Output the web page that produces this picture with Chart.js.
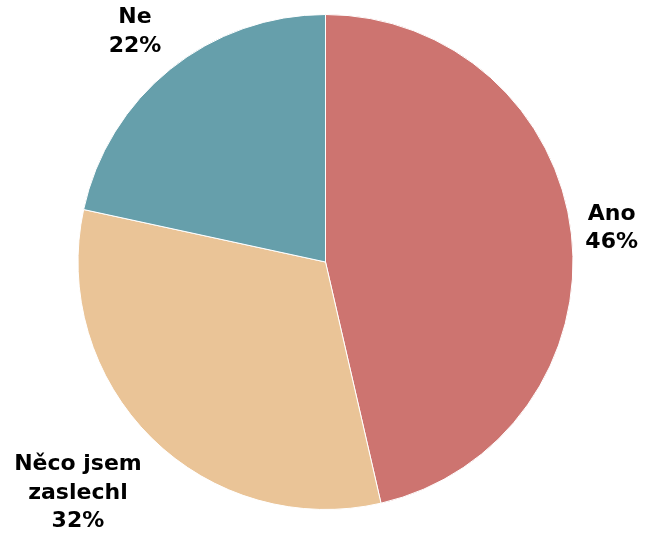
<!DOCTYPE html>
<html>
<head>
<meta charset="utf-8">
<script src="https://cdn.jsdelivr.net/npm/chart.js@4"></script>
<style>
  html, body { margin: 0; padding: 0; background: #ffffff; }
  #wrap { width: 647px; height: 535px; }
</style>
</head>
<body>
<div id="wrap"><canvas id="c" width="647" height="535"></canvas></div>
<script>
const categories = ['Ano', 'Něco jsem zaslechl', 'Ne'];
const labelLines = [['Ano'], ['Něco jsem', 'zaslechl'], ['Ne']];
const shares = [46.4, 32.0, 21.6];
const colors = ['#CD7470', '#EAC497', '#669FAB'];

const FONT = 'bold 22px Verdana, "DejaVu Sans", sans-serif';
const LINE_H = 28.5;
const LABEL_GAP = 14;
const BASELINE_NUDGE = 2;

const clamp = (v, lo, hi) => Math.max(lo, Math.min(hi, v));

// Category name plus rounded percentage, set just outside each slice
const outsideLabels = {
  id: 'outsideLabels',
  afterDatasetsDraw(chart) {
    const ctx = chart.ctx;
    const meta = chart.getDatasetMeta(0);
    const total = shares.reduce((a, b) => a + b, 0);
    ctx.save();
    ctx.font = FONT;
    ctx.fillStyle = '#000000';
    ctx.textAlign = 'center';
    ctx.textBaseline = 'middle';
    meta.data.forEach((arc, i) => {
      const pct = Math.round(shares[i] / total * 100);
      const lines = labelLines[i].concat([pct + '%']);
      const mid = (arc.startAngle + arc.endAngle) / 2;
      const dx = Math.cos(mid), dy = Math.sin(mid);
      const r = arc.outerRadius + LABEL_GAP;
      const ax = arc.x + dx * r;
      const ay = arc.y + dy * r;
      const w = Math.max(...lines.map(l => ctx.measureText(l).width));
      const h = lines.length * LINE_H;
      const cx = ax + (w / 2) * clamp(dx / 0.5, -1, 1);
      const cy = ay + (h / 2) * clamp(dy / 0.5, -1, 1) + BASELINE_NUDGE;
      lines.forEach((l, k) => {
        ctx.fillText(l, cx, cy - h / 2 + LINE_H * (k + 0.5));
      });
    });
    ctx.restore();
  }
};

new Chart(document.getElementById('c'), {
  type: 'pie',
  data: {
    labels: categories,
    datasets: [{
      data: shares,
      backgroundColor: colors,
      borderColor: '#ffffff',
      borderWidth: 1
    }]
  },
  options: {
    responsive: false,
    animation: false,
    layout: { padding: { left: 77, right: 73, top: 14, bottom: 25 } },
    plugins: {
      legend: { display: false },
      tooltip: { enabled: false }
    }
  },
  plugins: [outsideLabels]
});
</script>
</body>
</html>
